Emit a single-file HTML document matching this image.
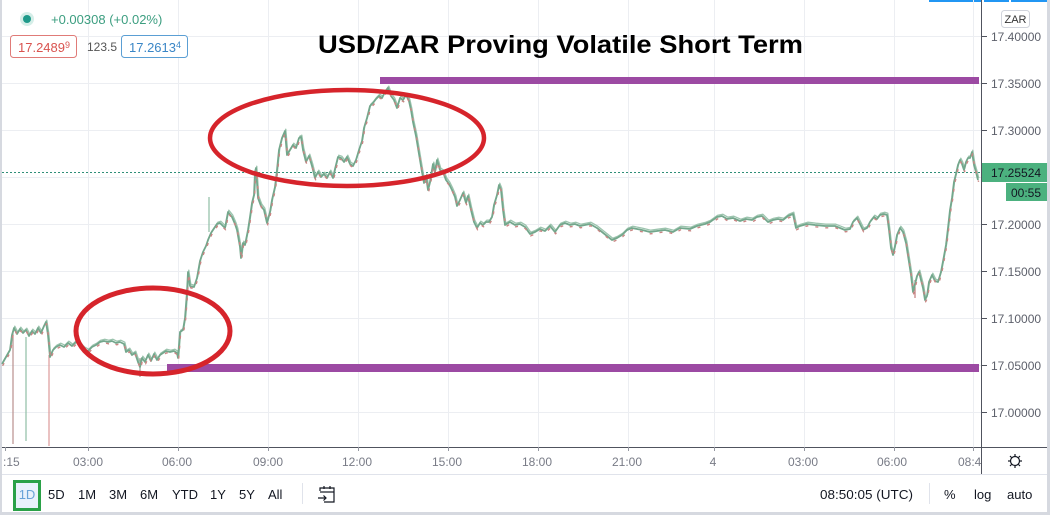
<!DOCTYPE html>
<html><head><meta charset="utf-8"><style>
html,body{margin:0;padding:0;background:#fff;}
svg{display:block;font-family:"Liberation Sans",sans-serif;}
</style></head><body>
<svg width="1050" height="515" viewBox="0 0 1050 515" xmlns="http://www.w3.org/2000/svg">
<defs>
<polyline id="ps" fill="none" stroke-linejoin="round" points="2,364 6,357 10,350 12,335 14,328 17,334 20,329 23,333 26,330 29,336 32,331 35,334 38,328 41,333 44,326 46,322 48,335 50,357 53,350 56,347 60,345 64,347 68,343 72,346 76,342 80,345 84,349 88,351 92,347 96,345 100,342 104,341 108,342 112,341 116,343 120,342 124,344 126,352 129,350 132,355 135,353 138,362 140,367 142,358 145,362 148,355 151,361 154,354 157,360 160,355 163,353 166,351 170,352 174,351 177,353 178,358 180,332 183,330 185,318 187,292 188,272 190,286 194,287 197,278 200,261 203,252 206,246 208,240 211,233 213,230 217,224 220,223 223,226 225,228 228,212 232,217 235,224 237,230 240,247 241,258 243,243 245,245 248,230 250,217 252,203 254,195 255,172 256,168 258,198 261,206 264,210 267,223 270,212 272,200 275,187 277,170 279,150 282,138 285,131 287,155 290,150 293,145 296,148 299,138 301,137 303,150 306,162 309,156 312,166 315,178 318,172 321,177 324,174 327,178 330,172 333,178 335,169 338,157 341,158 344,162 347,157 350,164 353,166 356,160 359,150 362,141 364,128 367,118 370,106 373,103 376,99 379,96 382,98 385,92 388,88 391,96 394,100 397,108 400,98 403,100 406,95 409,101 411,110 413,122 416,136 418,148 420,160 422,172 424,183 426,176 428,190 430,182 433,164 435,172 437,160 440,170 443,172 446,180 449,184 452,190 455,197 457,206 460,200 463,193 466,203 468,196 471,210 474,222 477,228 480,223 483,225 486,222 489,222 492,217 494,205 497,195 499,185 501,190 503,210 505,225 510,222 515,225 520,224 525,227 530,234 535,232 540,229 545,231 550,226 555,232 560,225 565,223 570,225 575,224 580,226 585,225 590,224 597,228 602,232 607,236 612,240 617,238 622,235 627,230 632,228 637,229 642,230 650,232 657,231 665,230 673,232 680,228 690,229 697,226 705,224 710,222 717,217 722,216 727,219 733,218 740,221 746,219 752,220 757,217 762,216 768,222 773,220 778,219 783,220 788,216 793,214 796,228 800,226 807,224 815,225 825,226 835,226 845,230 850,229 853,222 857,218 860,224 863,230 867,228 870,222 874,217 877,219 880,215 884,214 887,215 889,230 891,248 893,255 895,246 897,235 900,228 903,232 906,243 909,262 911,275 913,292 915,284 917,276 919,272 921,280 923,288 925,300 927,296 929,282 932,275 935,281 938,282 941,272 944,256 946,245 948,228 950,210 952,198 954,182 956,174 958,165 960,160 962,164 964,170 966,162 968,158 970,158 972,152 974,165 976,172 978,180"/>
</defs>
<rect x="0" y="0" width="1050" height="515" fill="#fff"/>
<rect x="0" y="0" width="2" height="515" fill="#d6d9e0"/>
<rect x="1047" y="0" width="3" height="515" fill="#d6d9e0"/>
<rect x="0" y="512" width="1050" height="3" fill="#d6d9e0"/>
<rect x="929" y="0" width="53" height="2" fill="#2196f3"/>
<rect x="984" y="0" width="25" height="2" fill="#2196f3"/>
<rect x="1011" y="0" width="36" height="2" fill="#2196f3"/>

<g stroke="#eceef2" stroke-width="1">
<line x1="2" y1="36.5" x2="982" y2="36.5"/>
<line x1="2" y1="83.5" x2="982" y2="83.5"/>
<line x1="2" y1="130.5" x2="982" y2="130.5"/>
<line x1="2" y1="177.5" x2="982" y2="177.5"/>
<line x1="2" y1="224.5" x2="982" y2="224.5"/>
<line x1="2" y1="271.5" x2="982" y2="271.5"/>
<line x1="2" y1="318.5" x2="982" y2="318.5"/>
<line x1="2" y1="365.5" x2="982" y2="365.5"/>
<line x1="2" y1="412.5" x2="982" y2="412.5"/>
<line x1="88.5" y1="0" x2="88.5" y2="447"/>
<line x1="178.5" y1="0" x2="178.5" y2="447"/>
<line x1="268.5" y1="0" x2="268.5" y2="447"/>
<line x1="358.5" y1="0" x2="358.5" y2="447"/>
<line x1="448.5" y1="0" x2="448.5" y2="447"/>
<line x1="538.5" y1="0" x2="538.5" y2="447"/>
<line x1="628.5" y1="0" x2="628.5" y2="447"/>
<line x1="714.5" y1="0" x2="714.5" y2="447"/>
<line x1="804.5" y1="0" x2="804.5" y2="447"/>
<line x1="894.5" y1="0" x2="894.5" y2="447"/>
<line x1="973.5" y1="0" x2="973.5" y2="447"/>
</g>

<line x1="2" y1="172.5" x2="982" y2="172.5" stroke="#2f8f78" stroke-width="1" stroke-dasharray="2 2"/>

<g stroke-width="1.2">
<line x1="13" y1="333" x2="13" y2="444" stroke="#b9908e"/>
<line x1="26" y1="337" x2="26" y2="441" stroke="#8fbfa5"/>
<line x1="49" y1="355" x2="49" y2="446" stroke="#dc9a98"/>
<line x1="209" y1="197" x2="209" y2="232" stroke="#8fbfa5"/>
<line x1="140" y1="358" x2="140" y2="377" stroke="#9a9a90"/>
<line x1="915" y1="280" x2="915" y2="298" stroke="#c07c7a"/>
</g>

<use href="#ps" stroke="#9cc4ae" stroke-width="1.3" transform="translate(0.8,-1.8)"/>
<use href="#ps" stroke="#73a78c" stroke-width="1.8"/>
<use href="#ps" stroke="#c98583" stroke-width="1.4" stroke-dasharray="3 7" transform="translate(0.6,1.8)"/>

<rect x="380" y="77" width="599" height="7" fill="#9c4aa3"/>
<rect x="167" y="364" width="812" height="8" fill="#9c4aa3"/>

<ellipse cx="347" cy="138" rx="137" ry="48" fill="none" stroke="#d6242b" stroke-width="4.5"/>
<ellipse cx="153" cy="331" rx="77" ry="43" fill="none" stroke="#d6242b" stroke-width="5"/>

<text x="318" y="53" font-size="25" font-weight="bold" fill="#000" textLength="485" lengthAdjust="spacingAndGlyphs">USD/ZAR Proving Volatile Short Term</text>

<circle cx="27" cy="19" r="7" fill="#d5eee8"/>
<circle cx="27" cy="19" r="4" fill="#1f9a8a"/>
<text x="51" y="24" font-size="13" fill="#3c9e80">+0.00308 (+0.02%)</text>
<rect x="10.5" y="35.5" width="66" height="22" rx="3" fill="#fff" stroke="#e07b78"/>
<text x="18" y="52" font-size="13" fill="#d9534f">17.2489<tspan font-size="9" dy="-4">9</tspan></text>
<text x="87" y="51" font-size="12" fill="#555">123.5</text>
<rect x="121.5" y="35.5" width="66" height="22" rx="3" fill="#fff" stroke="#5b9fd4"/>
<text x="129" y="52" font-size="13" fill="#3a86c6">17.2613<tspan font-size="9" dy="-4">4</tspan></text>

<line x1="981.5" y1="0" x2="981.5" y2="474" stroke="#50535e" stroke-width="1"/>
<rect x="1001.5" y="10.5" width="28" height="17" rx="3" fill="#fff" stroke="#d1d4dc"/>
<text x="1015.5" y="23" font-size="11" fill="#333" text-anchor="middle">ZAR</text>
<g stroke="#50535e" stroke-width="1">
<line x1="982" y1="36.5" x2="987" y2="36.5"/>
<line x1="982" y1="83.5" x2="987" y2="83.5"/>
<line x1="982" y1="130.5" x2="987" y2="130.5"/>
<line x1="982" y1="224.5" x2="987" y2="224.5"/>
<line x1="982" y1="271.5" x2="987" y2="271.5"/>
<line x1="982" y1="318.5" x2="987" y2="318.5"/>
<line x1="982" y1="365.5" x2="987" y2="365.5"/>
<line x1="982" y1="412.5" x2="987" y2="412.5"/>
</g>
<g font-size="12" fill="#5d606b">
<text x="991" y="41">17.40000</text>
<text x="991" y="88">17.35000</text>
<text x="991" y="135">17.30000</text>
<text x="991" y="229">17.20000</text>
<text x="991" y="276">17.15000</text>
<text x="991" y="323">17.10000</text>
<text x="991" y="370">17.05000</text>
<text x="991" y="417">17.00000</text>
</g>
<rect x="982" y="163" width="65" height="19" fill="#4cb17f"/>
<text x="991" y="177" font-size="12" fill="#131722">17.25524</text>
<rect x="1006" y="183" width="41" height="18" fill="#4cb17f"/>
<text x="1011" y="197" font-size="12" fill="#131722">00:55</text>

<line x1="2" y1="447.5" x2="1047" y2="447.5" stroke="#50535e" stroke-width="1"/>
<g stroke="#9598a1" stroke-width="1">
<line x1="5.5" y1="447" x2="5.5" y2="451"/>
<line x1="88.5" y1="447" x2="88.5" y2="451"/>
<line x1="178.5" y1="447" x2="178.5" y2="451"/>
<line x1="268.5" y1="447" x2="268.5" y2="451"/>
<line x1="358.5" y1="447" x2="358.5" y2="451"/>
<line x1="448.5" y1="447" x2="448.5" y2="451"/>
<line x1="538.5" y1="447" x2="538.5" y2="451"/>
<line x1="628.5" y1="447" x2="628.5" y2="451"/>
<line x1="714.5" y1="447" x2="714.5" y2="451"/>
<line x1="804.5" y1="447" x2="804.5" y2="451"/>
<line x1="894.5" y1="447" x2="894.5" y2="451"/>
<line x1="973.5" y1="447" x2="973.5" y2="451"/>
</g>
<g font-size="12" fill="#787b86" text-anchor="middle">
<text x="88" y="466">03:00</text>
<text x="177" y="466">06:00</text>
<text x="268" y="466">09:00</text>
<text x="357" y="466">12:00</text>
<text x="447" y="466">15:00</text>
<text x="537" y="466">18:00</text>
<text x="627" y="466">21:00</text>
<text x="713" y="466">4</text>
<text x="803" y="466">03:00</text>
<text x="892" y="466">06:00</text>
</g>
<text x="3" y="466" font-size="12" fill="#787b86">:15</text>
<svg x="950" y="450" width="31" height="24"><text x="8" y="16" font-size="12" fill="#787b86">08:4</text></svg>
<g stroke="#131722" stroke-width="1.2" fill="none">
<circle cx="1015" cy="461" r="4.5"/>
<line x1="1015" y1="454" x2="1015" y2="456"/>
<line x1="1015" y1="466" x2="1015" y2="468"/>
<line x1="1008" y1="461" x2="1010" y2="461"/>
<line x1="1020" y1="461" x2="1022" y2="461"/>
<line x1="1010" y1="456" x2="1011.5" y2="457.5"/>
<line x1="1020" y1="456" x2="1018.5" y2="457.5"/>
<line x1="1010" y1="466" x2="1011.5" y2="464.5"/>
<line x1="1020" y1="466" x2="1018.5" y2="464.5"/>
</g>

<line x1="2" y1="474.5" x2="1047" y2="474.5" stroke="#e0e3eb" stroke-width="1"/>
<rect x="14.5" y="481.5" width="25" height="28" fill="#e9f1fb" stroke="#2aa148" stroke-width="3"/>
<text x="27" y="499" font-size="13" fill="#6aa3d8" text-anchor="middle">1D</text>
<g font-size="13" fill="#131722">
<text x="48" y="499">5D</text>
<text x="78" y="499">1M</text>
<text x="109" y="499">3M</text>
<text x="140" y="499">6M</text>
<text x="172" y="499">YTD</text>
<text x="210" y="499">1Y</text>
<text x="239" y="499">5Y</text>
<text x="268" y="499">All</text>
<text x="820" y="499" textLength="93" lengthAdjust="spacingAndGlyphs">08:50:05 (UTC)</text>
<text x="944" y="499">%</text>
<text x="974" y="499">log</text>
<text x="1007" y="499">auto</text>
</g>
<line x1="302.5" y1="483" x2="302.5" y2="504" stroke="#e0e3eb"/>
<line x1="929.5" y1="483" x2="929.5" y2="504" stroke="#e0e3eb"/>
<g stroke="#131722" stroke-width="1.2" fill="none">
<path d="M320 491 V488 H334 V502 H324"/>
<line x1="320" y1="492" x2="334" y2="492"/>
<line x1="324" y1="486" x2="324" y2="489"/>
<line x1="330" y1="486" x2="330" y2="489"/>
<path d="M318 498 H326 M323.5 495.5 L326 498 L323.5 500.5"/>
</g>
</svg>
</body></html>
